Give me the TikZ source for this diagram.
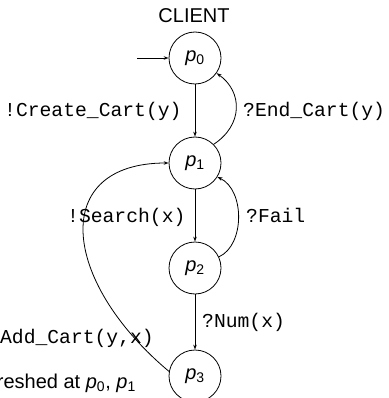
\documentclass[tikz,border=0pt]{standalone}
\usepackage{fontspec}
\setmainfont{Liberation Sans}
\setmonofont{Liberation Mono}
\usetikzlibrary{arrows.meta}
\newcommand\stname[1]{\textit{p}\textsubscript{#1}}
\begin{document}
\begin{tikzpicture}[x=1pt,y=-1pt,
  every node/.style={font=\fontsize{20}{24}\selectfont},
  state/.style={draw,circle,minimum size=52pt,inner sep=0pt,line width=0.8pt},
  lbl/.style={font=\fontsize{19.7}{24}\selectfont\ttfamily,inner sep=0pt},
  tr/.style={line width=0.8pt,-{Stealth[length=5pt,width=3.5pt]}}]
\useasboundingbox (0,0) rectangle (388,398);
\node[anchor=base,inner sep=0pt] (title) at (194,22.7) {CLIENT};
\node[state] (p0) at (195,58) {\stname{0}};
\node[state] (p1) at (195,163) {\stname{1}};
\node[state] (p2) at (195,268) {\stname{2}};
\node[state] (p3) at (195,376) {\stname{3}};
\coordinate (init) at (137,58);
\draw[tr] (init) -- (p0.west);
\draw[tr] (p0) -- (p1);
\draw[tr] (p1.45) .. controls (243,125) and (243,92) .. (p0.-35);
\draw[tr] (p1) -- (p2);
\draw[tr] (p2.25) .. controls (245,245) and (245,190) .. (p1.-32);
\draw[tr] (p2) -- (p3);
\draw[tr] (p3.170) .. controls (60,280) and (50,163) .. (p1.west);
\node[lbl,anchor=base west] (l1) at (4,117) {!Create\_Cart(y)};
\node[lbl,anchor=base west] (l2) at (243,117) {?End\_Cart(y)};
\node[lbl,anchor=base west] (l3) at (67,222) {!Search(x)};
\node[lbl,anchor=base west] (l4) at (246,222) {?Fail};
\node[lbl,anchor=base west] (l5) at (202,327) {?Num(x)};
\node[lbl,anchor=base east] (l6) at (154,343) {!Add\_Cart(y,x)};
\node[anchor=base east,inner sep=0pt] (note) at (136,388) {refreshed at \stname{0}, \stname{1}};
\end{tikzpicture}
\end{document}
